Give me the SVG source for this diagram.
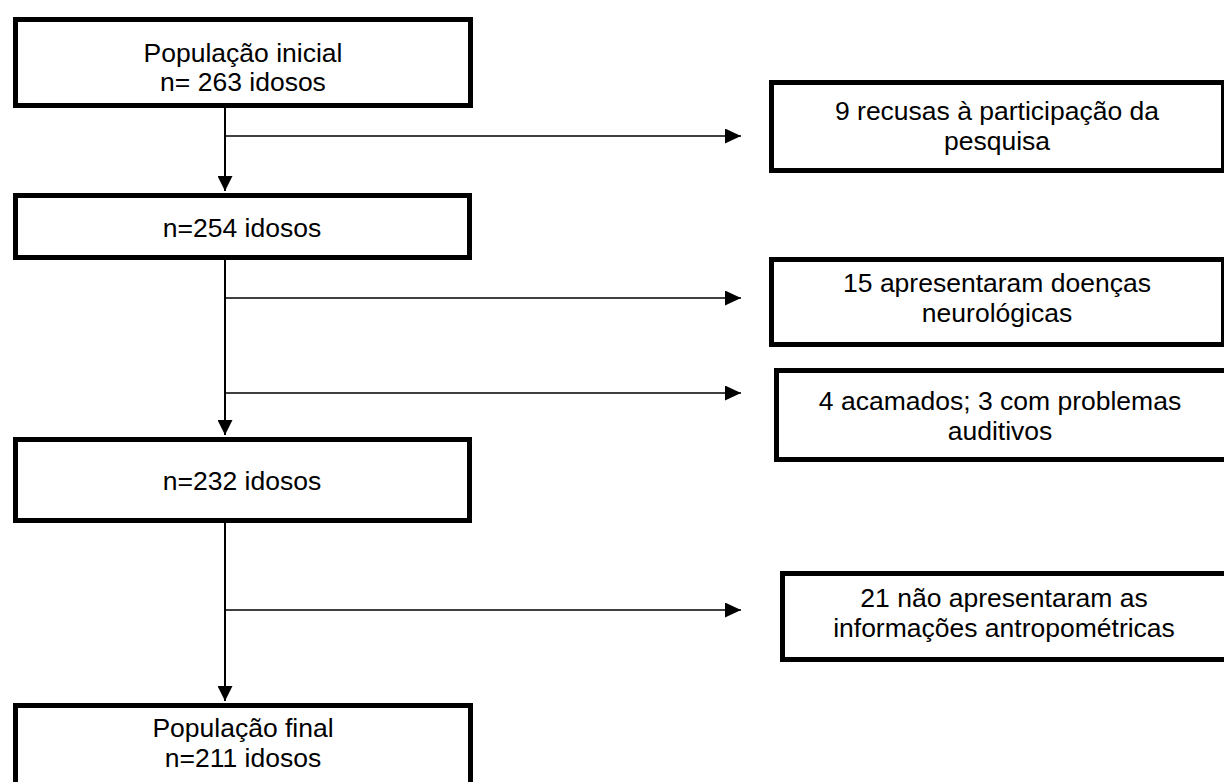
<svg xmlns="http://www.w3.org/2000/svg" width="1224" height="782" viewBox="0 0 1224 782">
<style>
.box{fill:#fff;stroke:#000;stroke-width:5}
.t{font-family:"Liberation Sans",Arial,sans-serif;font-size:26.5px;fill:#000;text-anchor:middle}
.trunk{stroke:#000;stroke-width:2;fill:none}
.br{stroke:#000;stroke-width:1.5;fill:none}
</style>
<defs>
<marker id="ad" markerUnits="userSpaceOnUse" markerWidth="15" markerHeight="15" refX="15" refY="7.5" orient="auto" viewBox="0 0 15 15"><path d="M0,0 L15,7.5 L0,15 z" fill="#000"/></marker>
<marker id="ar" markerUnits="userSpaceOnUse" markerWidth="16" markerHeight="15" refX="16" refY="7.5" orient="auto" viewBox="0 0 16 15"><path d="M0,0 L16,7.5 L0,15 z" fill="#000"/></marker>
</defs>
<rect width="1224" height="782" fill="#fff"/>
<g id="connectors">
<line class="trunk" x1="225" y1="108" x2="225" y2="191" marker-end="url(#ad)"/>
<line class="trunk" x1="225" y1="260" x2="225" y2="435" marker-end="url(#ad)"/>
<line class="trunk" x1="225" y1="523" x2="225" y2="701" marker-end="url(#ad)"/>
<line class="br" x1="225" y1="136" x2="741" y2="136" marker-end="url(#ar)"/>
<line class="br" x1="225" y1="298" x2="741" y2="298" marker-end="url(#ar)"/>
<line class="br" x1="225" y1="393" x2="741" y2="393" marker-end="url(#ar)"/>
<line class="br" x1="225" y1="610" x2="741" y2="610" marker-end="url(#ar)"/>
</g>
<g id="n1"><rect class="box" x="15.5" y="19.5" width="455" height="86"/><text class="t" x="243" y="61.5">População inicial</text><text class="t" x="243" y="91">n= 263 idosos</text></g>
<g id="n2"><rect class="box" x="15.5" y="195.5" width="454" height="62"/><text class="t" x="242" y="236.5">n=254 idosos</text></g>
<g id="n3"><rect class="box" x="15.5" y="439.5" width="454" height="81"/><text class="t" x="242" y="489.5">n=232 idosos</text></g>
<g id="n4"><rect class="box" x="15.5" y="705.5" width="455" height="90"/><text class="t" x="243" y="736.5">População final</text><text class="t" x="243" y="766.5">n=211 idosos</text></g>
<g id="r1"><rect class="box" x="771.5" y="82.5" width="452" height="88"/><text class="t" x="997" y="119.5">9 recusas à participação da</text><text class="t" x="997" y="149.5">pesquisa</text></g>
<g id="r2"><rect class="box" x="771.5" y="259.5" width="452" height="85"/><text class="t" x="997" y="291.5">15 apresentaram doenças</text><text class="t" x="997" y="321.5">neurológicas</text></g>
<g id="r3"><rect class="box" x="776.5" y="370.5" width="453" height="89"/><text class="t" x="1000" y="409.5">4 acamados; 3 com problemas</text><text class="t" x="1000" y="439.5">auditivos</text></g>
<g id="r4"><rect class="box" x="782.5" y="573.5" width="447" height="86"/><text class="t" x="1004" y="607">21 não apresentaram as</text><text class="t" x="1004" y="637">informações antropométricas</text></g>
</svg>
